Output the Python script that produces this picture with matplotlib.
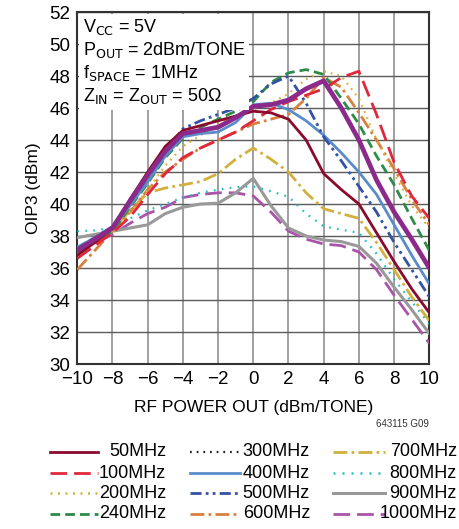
import numpy as np
import matplotlib
matplotlib.use('Agg')
import matplotlib.pyplot as plt
from matplotlib.lines import Line2D

plt.rcParams['font.family'] = ['Liberation Sans Narrow', 'Liberation Sans', 'DejaVu Sans']
plt.rcParams['mathtext.fontset'] = 'custom'
plt.rcParams['mathtext.rm'] = 'Liberation Sans Narrow'
plt.rcParams['mathtext.it'] = 'Liberation Sans Narrow'

# RF power out (dBm/tone)
pout = [-10, -9, -8, -7, -6, -5, -4, -3, -2, -1, 0, 1, 2, 3, 4, 5, 6, 7, 8, 9, 10]

# OIP3 (dBm) per frequency
oip3_50 = [36.8, 37.6, 38.5, 40.3, 42.0, 43.6, 44.6, 44.9, 45.2, 45.5, 45.8, 45.7, 45.3, 44.0, 41.9, 40.9, 40.0, 38.2, 36.4, 34.7, 33.2]
oip3_100 = [36.6, 37.4, 38.2, 39.2, 40.6, 41.9, 42.9, 43.5, 44.0, 44.5, 45.2, 45.9, 46.4, 46.8, 47.2, 47.9, 48.3, 45.6, 42.6, 40.5, 39.1]
oip3_200 = [36.9, 37.6, 38.3, 39.5, 40.9, 42.4, 43.6, 44.3, 45.0, 45.5, 45.9, 46.3, 46.9, 47.8, 48.3, 48.0, 46.6, 44.0, 41.9, 39.9, 38.5]
oip3_240 = [37.0, 37.6, 38.3, 39.8, 41.3, 42.9, 44.1, 44.8, 45.3, 45.8, 46.4, 47.6, 48.2, 48.4, 48.1, 46.6, 45.0, 43.0, 41.2, 39.1, 37.1]
oip3_300 = [37.1, 37.8, 38.5, 40.2, 41.8, 43.3, 44.4, 44.6, 44.8, 45.4, 46.1, 46.2, 46.5, 47.2, 47.7, 46.0, 44.0, 41.5, 39.5, 37.8, 36.0]
oip3_400 = [37.3, 37.9, 38.5, 39.9, 41.4, 43.0, 44.2, 44.4, 44.5, 45.1, 46.2, 46.3, 45.9, 45.2, 44.3, 43.2, 42.0, 40.6, 38.7, 36.8, 35.0]
oip3_500 = [37.2, 37.9, 38.6, 40.1, 41.7, 43.3, 44.7, 45.2, 45.6, 46.0, 46.6, 47.5, 48.0, 46.3, 44.2, 42.7, 41.1, 39.5, 37.6, 35.9, 34.2]
oip3_600 = [35.9, 37.1, 38.3, 39.5, 40.9, 42.0, 42.8, 43.5, 44.0, 44.5, 45.0, 45.3, 45.6, 46.6, 47.9, 47.3, 45.7, 44.0, 42.2, 40.3, 38.7]
oip3_700 = [37.0, 37.7, 38.4, 39.6, 40.7, 41.0, 41.2, 41.4, 41.9, 42.8, 43.5, 42.8, 42.0, 40.7, 39.7, 39.4, 39.1, 37.6, 35.9, 34.2, 32.7]
oip3_800 = [38.3, 38.35, 38.5, 39.1, 39.6, 40.0, 40.4, 40.7, 40.9, 41.05, 41.1, 40.8, 40.45, 39.4, 38.6, 38.4, 38.2, 36.9, 35.3, 33.9, 32.5]
oip3_900 = [37.9, 38.1, 38.3, 38.5, 38.7, 39.4, 39.8, 40.0, 40.05, 40.7, 41.6, 39.9, 38.5, 38.0, 37.75, 37.65, 37.35, 36.3, 34.8, 33.4, 31.9]
oip3_1000 = [37.0, 37.6, 38.1, 38.8, 39.4, 39.8, 40.4, 40.6, 40.7, 40.7, 40.5, 39.5, 38.3, 37.8, 37.5, 37.4, 37.0, 35.9, 34.3, 32.8, 31.3]

labels = ['50MHz', '100MHz', '200MHz', '240MHz', '300MHz', '400MHz',
          '500MHz', '600MHz', '700MHz', '800MHz', '900MHz', '1000MHz']
series = [oip3_50, oip3_100, oip3_200, oip3_240, oip3_300, oip3_400,
          oip3_500, oip3_600, oip3_700, oip3_800, oip3_900, oip3_1000]

# style per curve: color, linewidth, dash
styles = [
    ('#8a0a2c', 2.0, '-'),
    ('#e0283c', 2.0, (0, (6, 2.5))),
    ('#d8b040', 1.6, (0, (0.8, 2.2))),
    ('#2e8a48', 2.0, (0, (3.5, 1.8))),
    ('#8c2a8c', 3.4, '-'),
    ('#5a8ccc', 2.0, '-'),
    ('#3452a4', 2.0, (0, (4, 1.5, 1, 1.5, 1, 1.5))),
    ('#d8803e', 2.0, (0, (5, 1.5, 1, 1.5))),
    ('#d2b03c', 2.0, (0, (5, 1.5, 1, 1.5))),
    ('#22c0c4', 1.6, (0, (0.8, 2.8))),
    ('#999999', 2.2, '-'),
    ('#a855a8', 2.0, (0, (6, 2.5))),
]
# legend handle styles (300MHz drawn as black dotted in the key)
legend_styles = list(styles)
legend_styles[4] = ('#222222', 1.6, (0, (0.8, 2.2)))

fig = plt.figure(figsize=(4.59, 5.29), dpi=100)
ax = fig.add_axes([0.1684, 0.3119, 0.7669, 0.6654])

# draw order: lower curves first, thick purple near top
order = [11, 10, 9, 8, 7, 2, 3, 1, 5, 6, 0, 4]
for i in order:
    c, lw, ls = styles[i]
    ax.plot(pout, series[i], color=c, lw=lw, linestyle=ls, zorder=3, solid_capstyle='round')

ax.set_xlim(-10, 10)
ax.set_ylim(30, 52)
ax.set_xticks(np.arange(-10, 11, 2))
ax.set_yticks(np.arange(30, 53, 2))
ax.tick_params(length=0, labelsize=13.5, pad=5)
ax.xaxis.grid(True, color='#a0a0a0', lw=1.4)
ax.yaxis.grid(True, color='#5a5a5a', lw=1.0)
ax.set_axisbelow(True)
for s in ax.spines.values():
    s.set_color('#333333')
    s.set_linewidth(1.5)

ax.set_xlabel('RF POWER OUT (dBm/TONE)', fontsize=12.5, labelpad=9)
ax.set_ylabel('OIP3 (dBm)', fontsize=12.5, labelpad=6)

cond = ('V$_{\\rm CC}$ = 5V\n'
        'P$_{\\rm OUT}$ = 2dBm/TONE\n'
        'f$_{\\rm SPACE}$ = 1MHz\n'
        'Z$_{\\rm IN}$ = Z$_{\\rm OUT}$ = 50\u03a9')
ax.text(0.015, 0.985, cond, transform=ax.transAxes, fontsize=13, va='top', ha='left',
        linespacing=1.2, zorder=5,
        bbox=dict(facecolor='white', edgecolor='none', pad=2.5))

fig.text(0.935, 0.198, '643115 G09', fontsize=7, ha='right', va='center', color='#333333')

# key below the plot, three columns of four (coordinates in figure pixels)
lax = fig.add_axes([0, 0, 1, 90 / 529])
lax.set_xlim(0, 459)
lax.set_ylim(529, 439)
lax.axis('off')
col_handle = [(50, 98), (190, 240), (333, 385)]
col_text = [166, 310, 457]
row_y = [452, 473, 493, 514]
for k in range(12):
    col = k // 4
    row = k % 4
    c, lw, ls = legend_styles[k]
    x0, x1 = col_handle[col]
    lax.add_line(Line2D([x0, x1], [row_y[row], row_y[row]], color=c,
                        lw=max(lw, 1.8) if k != 4 else 1.6, linestyle=ls))
    lax.text(col_text[col], row_y[row], labels[k], fontsize=13, ha='right', va='center')

fig.savefig('out.png', dpi=100)
